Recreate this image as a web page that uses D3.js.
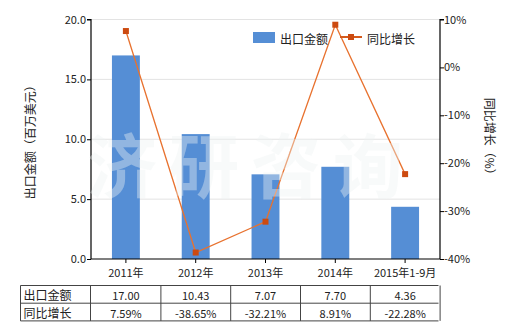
<!DOCTYPE html>
<html>
<head>
<meta charset="utf-8">
<script src="https://cdn.jsdelivr.net/npm/d3@7"></script>
<style>
  body { margin: 0; background: #fff; }
  svg text { font-family: "Noto Sans CJK SC", "DejaVu Sans", sans-serif; }
</style>
</head>
<body>
<div id="chart"></div>
<script>
// data
const categories = ["2011年", "2012年", "2013年", "2014年", "2015年1-9月"];
const exportValues = [17.0, 10.43, 7.07, 7.7, 4.36];
const growthValues = [7.59, -38.65, -32.21, 8.91, -22.28];
const exportLabels = ["17.00", "10.43", "7.07", "7.70", "4.36"];
const growthLabels = ["7.59%", "-38.65%", "-32.21%", "8.91%", "-22.28%"];
const leftTicks = [0, 5, 10, 15, 20];
const rightTicks = [-40, -30, -20, -10, 0, 10];

const W = 520, H = 330;
const m = { left: 91, right: 440, top: 19.5, bottom: 259 };

const svg = d3.select("#chart").append("svg").attr("width", W).attr("height", H);

const x = d3.scaleBand(categories, [m.left, m.right]).paddingInner(0.6).paddingOuter(0.3);
const xc = (d) => x(d) + x.bandwidth() / 2;
const yL = d3.scaleLinear([0, 20], [m.bottom, m.top]);
const yR = d3.scaleLinear([-40, 10], [m.bottom, m.top]);

// grid
svg.append("g")
  .selectAll("line")
  .data(leftTicks.slice(1))
  .join("line")
  .attr("x1", m.left).attr("x2", m.right)
  .attr("y1", (d) => yL(d)).attr("y2", (d) => yL(d))
  .attr("stroke", "#e3e3e3");

// bars
svg.append("g")
  .selectAll("rect")
  .data(categories)
  .join("rect")
  .attr("x", (d) => x(d))
  .attr("width", x.bandwidth())
  .attr("y", (d, i) => yL(exportValues[i]))
  .attr("height", (d, i) => m.bottom - yL(exportValues[i]))
  .attr("fill", "#558ed5");

// axes
const axL = svg.append("g")
  .attr("transform", `translate(${m.left},0)`)
  .call(d3.axisLeft(yL).tickValues(leftTicks).tickFormat(d3.format(".1f")).tickSize(4));
const axR = svg.append("g")
  .attr("transform", `translate(${m.right},0)`)
  .call(d3.axisRight(yR).tickValues(rightTicks).tickFormat((d) => d + "%").tickSize(4));
const axB = svg.append("g")
  .attr("transform", `translate(0,${m.bottom})`)
  .call(d3.axisBottom(x).tickSize(4).tickPadding(6));

[axL, axR, axB].forEach((g) => {
  g.select(".domain").attr("stroke", "#000").attr("stroke-width", 1.2);
  g.selectAll(".tick line").attr("stroke", "#000");
  g.selectAll(".tick text").attr("fill", "#222").style("font-size", "11px")
    .style("font-family", "\"Noto Sans CJK SC\", \"DejaVu Sans\", sans-serif");
});
axL.select(".domain").attr("d", `M-4,${m.top}H0V${m.bottom}`);
axR.select(".domain").attr("d", `M4,${m.top}H0V${m.bottom}`);
axB.select(".domain").attr("d", `M${m.left},0H${m.right}`);
axL.selectAll(".tick text").attr("x", -5);
axR.selectAll(".tick text").attr("x", 4);

// axis titles
svg.append("text")
  .attr("transform", `translate(29,${(m.top + m.bottom) / 2}) rotate(-90)`)
  .attr("text-anchor", "middle").attr("dominant-baseline", "central")
  .style("font-size", "12px").attr("fill", "#222")
  .text("出口金额（百万美元）");
svg.append("text")
  .attr("transform", `translate(490,${(m.top + m.bottom) / 2}) rotate(90)`)
  .attr("text-anchor", "middle").attr("dominant-baseline", "central")
  .style("font-size", "12px").attr("fill", "#222")
  .text("同比增长（%）");

// line
const line = d3.line().x((d, i) => xc(categories[i])).y((d) => yR(d));
svg.append("path")
  .datum(growthValues)
  .attr("d", line)
  .attr("fill", "none")
  .attr("stroke", "#e8722f")
  .attr("stroke-width", 1.3);
svg.append("g")
  .selectAll("rect")
  .data(growthValues)
  .join("rect")
  .attr("x", (d, i) => xc(categories[i]) - 3)
  .attr("y", (d) => yR(d) - 3)
  .attr("width", 6).attr("height", 6)
  .attr("fill", "#cc4a10");

// legend
const lg = svg.append("g").style("font-size", "12px");
lg.append("rect").attr("x", 253).attr("y", 32).attr("width", 22).attr("height", 11).attr("fill", "#558ed5");
lg.append("text").attr("x", 280).attr("y", 38).attr("dominant-baseline", "central").attr("fill", "#222").text("出口金额");
lg.append("line").attr("x1", 340).attr("x2", 362).attr("y1", 37).attr("y2", 37)
  .attr("stroke", "#d45a1c").attr("stroke-width", 2);
lg.append("rect").attr("x", 348).attr("y", 34).attr("width", 6).attr("height", 6).attr("fill", "#cc4a10");
lg.append("text").attr("x", 367).attr("y", 38).attr("dominant-baseline", "central").attr("fill", "#222").text("同比增长");

// watermark
svg.append("g")
  .selectAll("text")
  .data(["济", "研", "咨", "询"])
  .join("text")
  .attr("x", (d, i) => 122 + i * 82)
  .attr("y", 162)
  .attr("text-anchor", "middle").attr("dominant-baseline", "central")
  .style("font-size", "70px").style("font-weight", "bold")
  .attr("fill", "#eef3f3").attr("fill-opacity", 0.4)
  .text((d) => d);

// table
const tTop = 285.5, rowH = 17.7, tLeft = 20.5, firstW = 70;
const tRight = m.right - 1.5;
const tbl = svg.append("g").style("font-size", "11px");
[0, 1, 2].forEach((r) => {
  tbl.append("line").attr("x1", tLeft).attr("x2", tRight)
    .attr("y1", tTop + r * rowH).attr("y2", tTop + r * rowH)
    .attr("stroke", "#444");
});
const colX = [tLeft, tLeft + firstW].concat(categories.map((c) => xc(c) + 35));
colX.forEach((cx) => {
  tbl.append("line").attr("x1", cx).attr("x2", cx)
    .attr("y1", tTop).attr("y2", tTop + 2 * rowH).attr("stroke", "#444");
});
const rows = [["出口金额", exportLabels], ["同比增长", growthLabels]];
rows.forEach(([name, vals], r) => {
  const cy = tTop + r * rowH + rowH / 2;
  tbl.append("text").attr("x", tLeft + 3).attr("y", cy).attr("dominant-baseline", "central")
    .attr("fill", "#222").style("font-size", "12px").text(name);
  tbl.selectAll(null)
    .data(vals)
    .join("text")
    .attr("x", (d, i) => xc(categories[i]))
    .attr("y", cy + 1)
    .attr("text-anchor", "middle").attr("dominant-baseline", "central")
    .attr("fill", "#222")
    .text((d) => d);
});
</script>
</body>
</html>
